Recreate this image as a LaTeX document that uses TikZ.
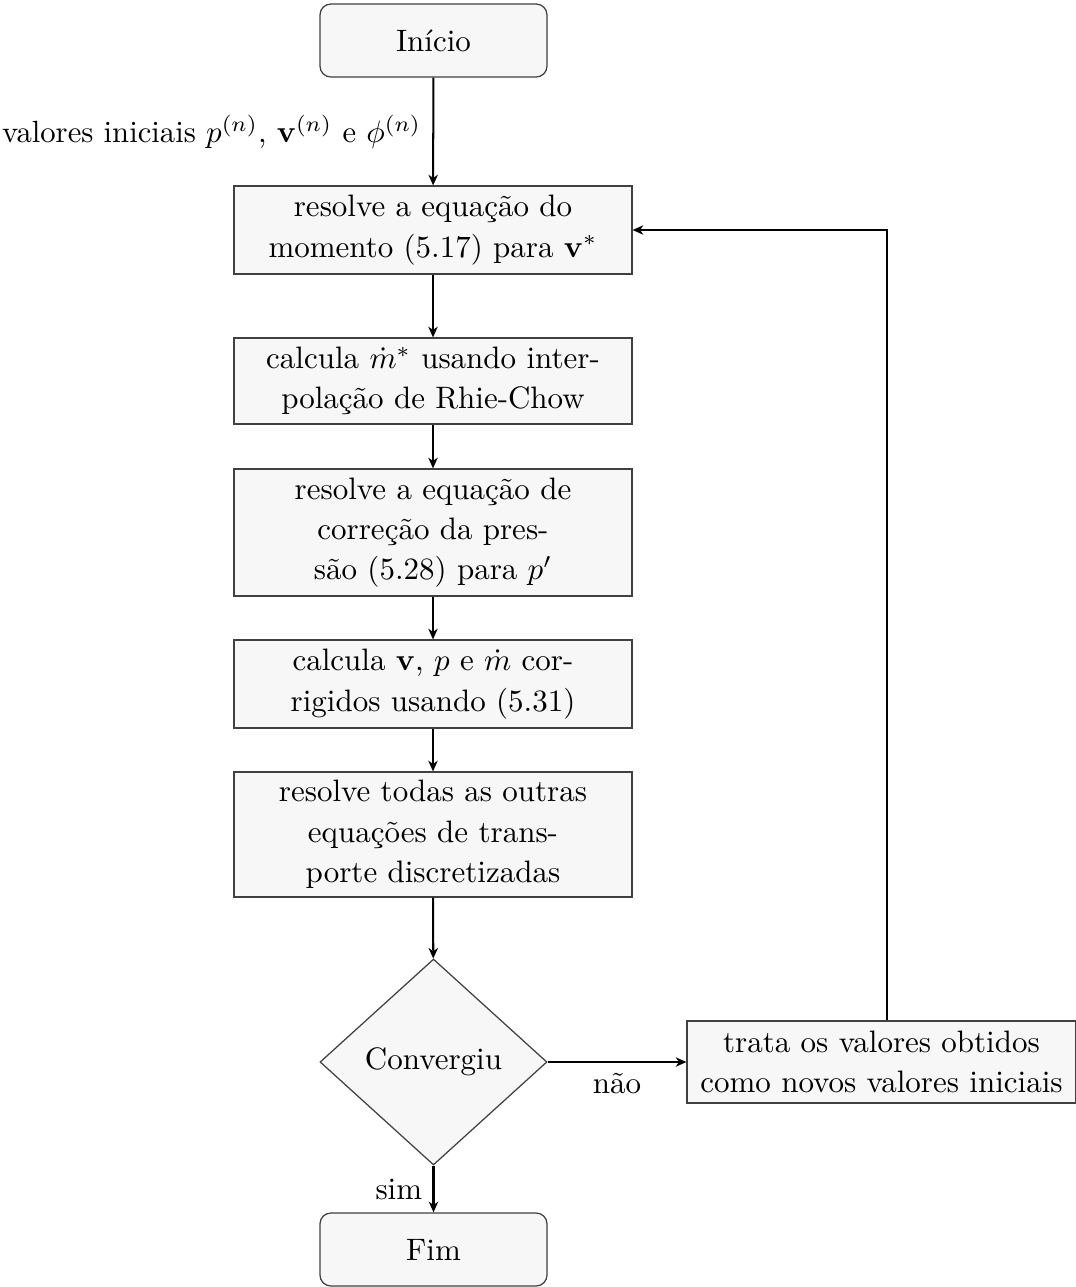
\documentclass[tikz,border=0pt]{standalone}
\usetikzlibrary{shapes.geometric,arrows.meta}
\definecolor{boxfill}{HTML}{F7F7F7}
\definecolor{boxline}{HTML}{404040}
\begin{document}
\begin{tikzpicture}[x=0.3226pt,y=-0.3226pt,
  base/.style={draw=boxline,fill=boxfill,line width=0.4pt,align=center,
    font=\fontsize{10}{13}\selectfont,inner sep=0pt},
  proc/.style={base,rectangle,minimum width=398*0.3226pt},
  term/.style={base,rectangle,rounded corners=3.5pt,minimum width=227*0.3226pt,minimum height=73*0.3226pt},
  decis/.style={base,diamond,minimum width=227*0.3226pt,minimum height=206*0.3226pt},
  arr/.style={-{Stealth[length=3.4pt,width=3pt,inset=1pt]},line width=0.65pt,black},
  lbl/.style={font=\fontsize{10}{13}\selectfont}
]
\useasboundingbox (0,0) rectangle (1076,1287);
\node[term] (ini) at (433.5,40.5) {Início};
\node[proc,minimum height=88*0.3226pt] (b1) at (433,230)
  {resolve a equação do\\momento (5.17) para $\mathbf{v}^*$};
\node[proc,minimum height=86*0.3226pt] (b2) at (433,381)
  {calcula $\dot m^*$ usando inter-\\polação de Rhie-Chow};
\node[proc,minimum height=127*0.3226pt] (b3) at (433,532.5)
  {resolve a equação de\\correção da pres-\\são (5.28) para $p'$};
\node[proc,minimum height=88*0.3226pt] (b4) at (433,684)
  {calcula $\mathbf{v}$, $p$ e $\dot m$ cor-\\rigidos usando (5.31)};
\node[proc,minimum height=125*0.3226pt] (b5) at (433,834.5)
  {resolve todas as outras\\equações de trans-\\porte discretizadas};
\node[decis] (dec) at (433.5,1062) {Convergiu};
\node[term] (fim) at (433.5,1249.5) {Fim};
\node[proc,minimum width=389*0.3226pt,minimum height=82*0.3226pt] (tr) at (881.5,1062)
  {trata os valores obtidos\\como novos valores iniciais};
\coordinate (loopx) at (887,0);

\draw[arr] (ini) -- node[left,inner sep=3.6pt,font=\fontsize{9.9}{13}\selectfont] {valores iniciais $p^{(n)}$, $\mathbf{v}^{(n)}$ e $\phi^{(n)}$} (b1);
\draw[arr] (b1) -- (b2);
\draw[arr] (b2) -- (b3);
\draw[arr] (b3) -- (b4);
\draw[arr] (b4) -- (b5);
\draw[arr] (b5) -- (dec);
\draw[arr] (dec.east) -- node[lbl,below] {não} (tr.west);
\draw[arr] (dec.south) -- node[lbl,left] {sim} (fim.north);
\draw[arr] (tr.north -| loopx) |- (b1.east);
\end{tikzpicture}
\end{document}
